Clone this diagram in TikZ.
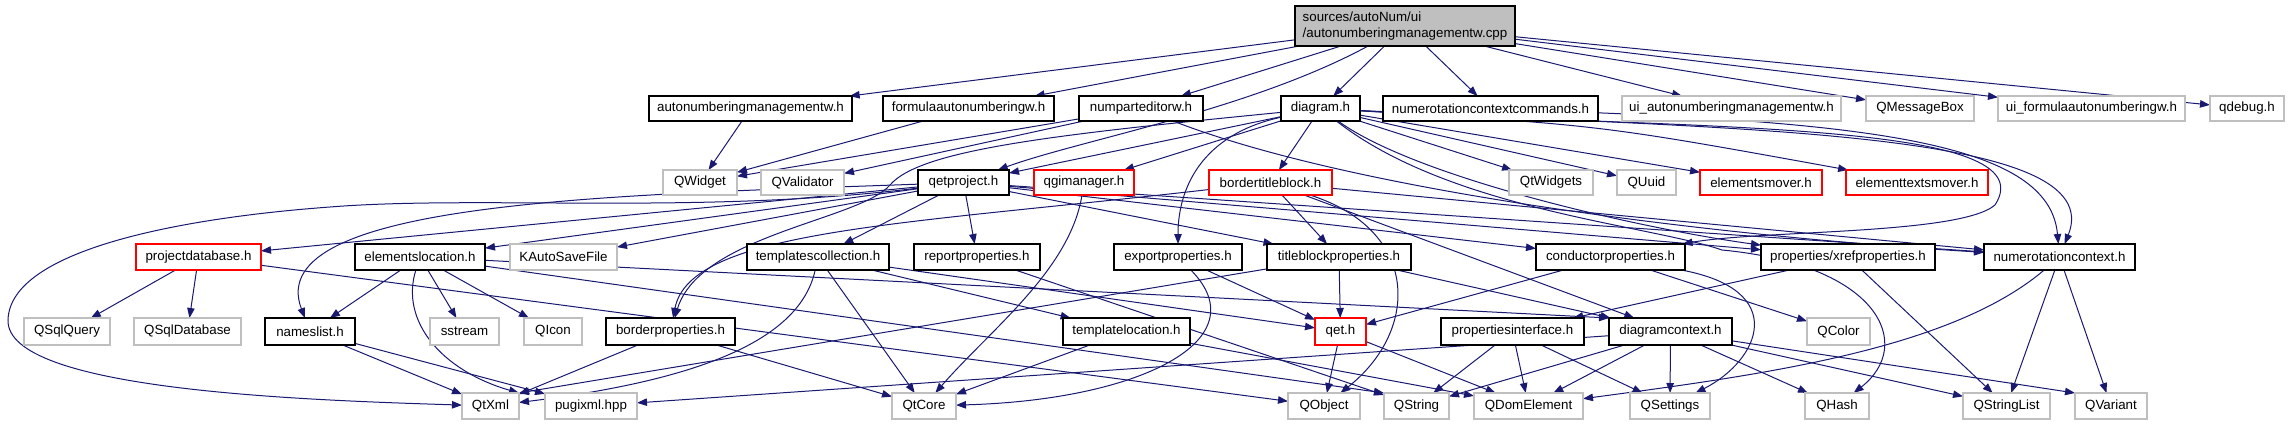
\documentclass[tikz,border=0pt]{standalone}
\usepackage{fontspec}
\setmainfont{Liberation Sans}
\usetikzlibrary{arrows.meta}
\definecolor{edgec}{HTML}{191970}
\definecolor{grayb}{HTML}{BFBFBF}
\pgfdeclarelayer{bg}
\pgfsetlayers{bg,main}
\newcommand\nd[7]{\node[#2, minimum width={0.75pt*(#4-#3)}, minimum height={0.75pt*(#6-#5)}] (#1) at ({(#3+#4)/2},{(#5+#6)/2}) {#7};}
\begin{document}
\begin{tikzpicture}[x=0.75pt,y=-0.75pt, font=\fontsize{10}{12}\selectfont,
  box/.style={draw, fill=white, inner sep=0pt, outer sep=0pt, line width=0.8pt},
  hdr/.style={box, draw=black},
  ext/.style={box, draw=grayb},
  trc/.style={box, draw=red},
  rootn/.style={box, draw=black, fill=grayb, align=left},
  e/.style={draw=edgec, line width=0.75pt, -{Triangle[length=7.5pt,width=5.6pt]}}]
\useasboundingbox (0,0) rectangle (2289,425);
% root
\nd{r}{rootn}{1295}{1515}{6}{46}{sources/autoNum/ui\\/autonumberingmanagementw.cpp}
% row 1
\nd{anm}{hdr}{649}{852}{96}{121}{autonumberingmanagementw.h}
\nd{fan}{hdr}{883}{1054}{96}{121}{formulaautonumberingw.h}
\nd{npe}{hdr}{1079}{1203}{96}{121}{numparteditorw.h}
\nd{dia}{hdr}{1281}{1360}{96}{121}{diagram.h}
\nd{ncc}{hdr}{1383}{1598}{96}{121}{numerotationcontextcommands.h}
\nd{uia}{ext}{1622}{1841}{96}{121}{ui\_autonumberingmanagementw.h}
\nd{qmb}{ext}{1866}{1974}{96}{121}{QMessageBox}
\nd{uif}{ext}{1998}{2185}{96}{121}{ui\_formulaautonumberingw.h}
\nd{qdb}{ext}{2210}{2284}{96}{121}{qdebug.h}
% row 2
\nd{qw}{ext}{663}{737}{170}{195}{QWidget}
\nd{qv}{ext}{761}{844}{170}{195}{QValidator}
\nd{qp}{hdr}{918}{1009}{170}{195}{qetproject.h}
\nd{qgm}{trc}{1034}{1134}{170}{195}{qgimanager.h}
\nd{btb}{trc}{1209}{1332}{170}{195}{bordertitleblock.h}
\nd{qtw}{ext}{1509}{1593}{170}{195}{QtWidgets}
\nd{quu}{ext}{1617}{1676}{170}{195}{QUuid}
\nd{em}{trc}{1700}{1822}{170}{195}{elementsmover.h}
\nd{etm}{trc}{1846}{1988}{170}{195}{elementtextsmover.h}
% row 3
\nd{pdb}{trc}{136}{261}{244}{270}{projectdatabase.h}
\nd{el}{hdr}{355}{485}{244}{270}{elementslocation.h}
\nd{kas}{ext}{510}{617}{244}{270}{KAutoSaveFile}
\nd{tc}{hdr}{747}{889}{244}{270}{templatescollection.h}
\nd{rp}{hdr}{914}{1040}{244}{270}{reportproperties.h}
\nd{ep}{hdr}{1114}{1242}{244}{270}{exportproperties.h}
\nd{tbp}{hdr}{1267}{1411}{244}{270}{titleblockproperties.h}
\nd{cp}{hdr}{1536}{1685}{244}{270}{conductorproperties.h}
\nd{xp}{hdr}{1761}{1935}{244}{270}{properties/xrefproperties.h}
\nd{nc}{hdr}{1984}{2135}{244}{270}{numerotationcontext.h}
% row 4
\nd{sqq}{ext}{24}{110}{318}{345}{QSqlQuery}
\nd{sqd}{ext}{134}{241}{318}{345}{QSqlDatabase}
\nd{nl}{hdr}{265}{355}{318}{345}{nameslist.h}
\nd{sst}{ext}{430}{499}{318}{345}{sstream}
\nd{qic}{ext}{524}{582}{318}{345}{QIcon}
\nd{bp}{hdr}{606}{735}{318}{345}{borderproperties.h}
\nd{tl}{hdr}{1063}{1190}{318}{345}{templatelocation.h}
\nd{qet}{trc}{1315}{1366}{318}{345}{qet.h}
\nd{pi}{hdr}{1441}{1584}{318}{345}{propertiesinterface.h}
\nd{dc}{hdr}{1609}{1732}{318}{345}{diagramcontext.h}
\nd{qco}{ext}{1807}{1870}{318}{345}{QColor}
% row 5
\nd{qx}{ext}{462}{519}{393}{419}{QtXml}
\nd{pug}{ext}{545}{637}{393}{419}{pugixml.hpp}
\nd{qtc}{ext}{892}{956}{393}{419}{QtCore}
\nd{qo}{ext}{1288}{1360}{393}{419}{QObject}
\nd{qs}{ext}{1384}{1449}{393}{419}{QString}
\nd{qde}{ext}{1474}{1583}{393}{419}{QDomElement}
\nd{qse}{ext}{1630}{1710}{393}{419}{QSettings}
\nd{qh}{ext}{1805}{1869}{393}{419}{QHash}
\nd{qsl}{ext}{1963}{2050}{393}{419}{QStringList}
\nd{qva}{ext}{2075}{2147}{393}{419}{QVariant}

\begin{pgfonlayer}{bg}
% root
\draw[e] (r) -- (anm);
\draw[e] (r) -- (fan);
\draw[e] (r) -- (npe);
\draw[e] (r) -- (dia);
\draw[e] (r) -- (ncc);
\draw[e] (r) -- (uia);
\draw[e] (r) -- (qmb);
\draw[e] (r) -- (uif);
\draw[e] (r) -- (qdb);
\draw[e] (r) .. controls (1250,110) and (1080,140) .. (qp);
% row 1
\draw[e] (anm) -- (qw);
\draw[e] (fan) -- (qw);
\draw[e] (npe) -- (qw);
\draw[e] (npe) -- (qv);
\draw[e] (npe) .. controls (1350,190) and (1700,235) .. (nc);
\draw[e] (ncc) .. controls (1900,125) and (2050,150) .. (nc);
% diagram.h
\draw[e] (dia) -- (qp);
\draw[e] (dia) -- (qgm);
\draw[e] (dia) -- (btb);
\draw[e] (dia) -- (qtw);
\draw[e] (dia) -- (quu);
\draw[e] (dia) -- (em);
\draw[e] (dia) .. controls (1600,125) .. (etm);
\draw[e] (dia) .. controls (1420,180) and (1650,230) .. (xp);
\draw[e] (dia) .. controls (1200,135) and (1178,190) .. (ep);
\draw[e] (dia) .. controls (1700,130) and (2050,120) .. (1995,205) .. controls (1960,235) and (1760,230) .. (cp);
\draw[e] (dia) .. controls (1750,130) and (2110,130) .. (nc);
\draw[e] (dia) .. controls (1450,210) and (1650,225) .. (1722,250) .. controls (1880,265) and (1915,345) .. (qh);
\draw[e] (dia) .. controls (1050,135) and (920,150) .. (890,185) .. controls (860,220) and (700,235) .. (bp);
% qetproject.h
\draw[e] (qp) -- (pdb);
\draw[e] (qp) -- (el);
\draw[e] (qp) -- (kas);
\draw[e] (qp) -- (tc);
\draw[e] (qp) -- (rp);
\draw[e] (qp) -- (tbp);
\draw[e] (qp) -- (cp);
\draw[e] (qp) -- (xp);
\draw[e] (qp) -- (nc);
\draw[e] (qp) .. controls (620,195) and (260,200) .. (nl);
\draw[e] (qp) .. controls (700,215) and (480,195) .. (330,207) .. controls (180,218) and (10,250) .. (8,320) .. controls (6,390) and (300,400) .. (qx);
% qgimanager.h
\draw[e] (qgm) .. controls (1070,270) and (990,330) .. (qtc);
% bordertitleblock.h
\draw[e] (btb) -- (tbp);
\draw[e] (btb) -- (dc);
\draw[e] (btb) -- (nc);
\draw[e] (btb) .. controls (900,225) and (690,230) .. (bp);
\draw[e] (btb) .. controls (1420,230) and (1420,330) .. (qo);
% row 3
\draw[e] (pdb) -- (sqq);
\draw[e] (pdb) -- (sqd);
\draw[e] (pdb) -- (qo);
\draw[e] (el) -- (nl);
\draw[e] (el) -- (sst);
\draw[e] (el) -- (qic);
\draw[e] (el) -- (dc.north west);
\draw[e] (el) -- (qs.north west);
\draw[e] (el) .. controls (400,320) and (440,370) .. (qx.north east);
\draw[e] (tc) -- (tl);
\draw[e] (tc) -- (qtc);
\draw[e] (tc) -- (qet);
\draw[e] (tc) .. controls (800,340) and (700,380) .. (qx);
\draw[e] (rp) -- (qs);
\draw[e] (ep) -- (qet);
\draw[e] (ep) .. controls (1260,340) and (1140,400) .. (qtc);
\draw[e] (tbp) -- (qet);
\draw[e] (tbp) -- (dc);
\draw[e] (tbp) -- (qx.north east);
\draw[e] (cp) -- (qet);
\draw[e] (cp) -- (qco);
\draw[e] (cp) .. controls (1790,290) and (1760,360) .. (qse);
\draw[e] (xp) -- (pi);
\draw[e] (xp) -- (qsl);
\draw[e] (nc) .. controls (1950,350) and (1760,375) .. (qde);
\draw[e] (nc) -- (qsl);
\draw[e] (nc) -- (qva);
% row 4
\draw[e] (nl) -- (qx);
\draw[e] (nl) -- (pug);
\draw[e] (bp) -- (qx);
\draw[e] (bp) -- (qtc);
\draw[e] (tl) -- (qtc);
\draw[e] (tl) -- (qde);
\draw[e] (qet) -- (qo);
\draw[e] (qet) -- (qde);
\draw[e] (pi) -- (qs);
\draw[e] (pi) -- (qde);
\draw[e] (pi) -- (qse);
\draw[e] (dc) -- (pug);
\draw[e] (dc) -- (qs);
\draw[e] (dc) -- (qde);
\draw[e] (dc) -- (qse);
\draw[e] (dc) -- (qh);
\draw[e] (dc) -- (qsl);
\draw[e] (dc) -- (qva.north west);
\end{pgfonlayer}
\end{tikzpicture}
\end{document}
